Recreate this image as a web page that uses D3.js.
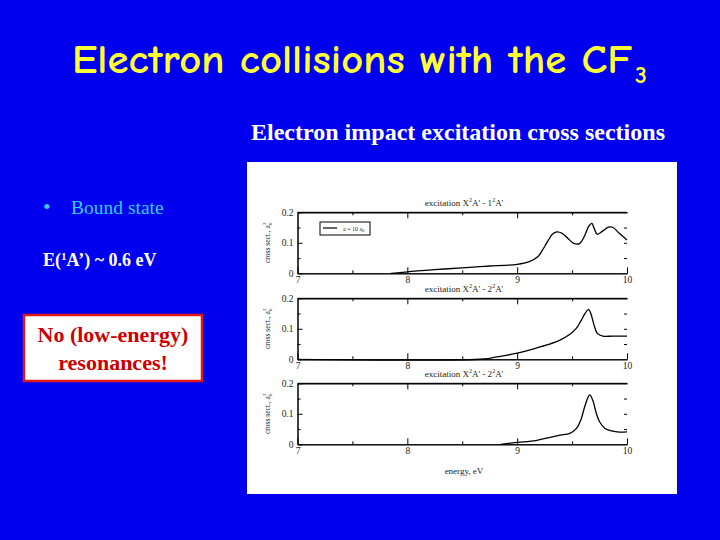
<!DOCTYPE html>
<html>
<head>
<meta charset="utf-8">
<script src="https://cdn.jsdelivr.net/npm/d3@7"></script>
<style>
  html, body { margin: 0; padding: 0; background: #0000ee; }
  svg { display: block; }
</style>
</head>
<body>
<svg id="chart" width="720" height="540"></svg>
<script>
// ---- data ----
const panelTitles = [
  ["excitation X", "2", "A' - 1", "2", "A'"],
  ["excitation X", "2", "A' - 2", "2", "A'"],
  ["excitation X", "2", "A' - 2", "2", "A'"]
];
const xTicks = [7, 8, 9, 10];
const xMinorTicks = [7.5, 8.5, 9.5];
const yTicks = [0, 0.1, 0.2];
const yMinorTicks = [0.05, 0.15];

const energy1 = [7.85, 7.95, 8.0, 8.25, 8.5, 8.66, 8.75, 9.0, 9.11, 9.19, 9.23, 9.28, 9.32, 9.36, 9.41, 9.46, 9.52, 9.57, 9.61, 9.65, 9.68, 9.70, 9.73, 9.78, 9.83, 9.87, 9.93, 10.0];
const cross1  = [0, 0.003, 0.005, 0.012, 0.018, 0.022, 0.024, 0.029, 0.038, 0.055, 0.076, 0.106, 0.128, 0.136, 0.131, 0.115, 0.097, 0.098, 0.120, 0.153, 0.164, 0.148, 0.128, 0.139, 0.151, 0.151, 0.131, 0.109];

const energy2 = [7.0, 8.7, 8.8, 8.9, 9.0, 9.11, 9.27, 9.39, 9.48, 9.54, 9.58, 9.62, 9.65, 9.67, 9.70, 9.73, 9.78, 9.87, 10.0];
const cross2  = [0, 0.001, 0.007, 0.013, 0.02, 0.03, 0.047, 0.063, 0.082, 0.102, 0.126, 0.151, 0.164, 0.151, 0.112, 0.085, 0.076, 0.076, 0.076];

const energy3 = [8.85, 9.0, 9.17, 9.30, 9.39, 9.48, 9.54, 9.58, 9.62, 9.66, 9.69, 9.72, 9.75, 9.80, 9.86, 9.93, 10.0];
const cross3  = [0, 0.006, 0.012, 0.023, 0.030, 0.036, 0.052, 0.080, 0.129, 0.162, 0.143, 0.102, 0.074, 0.052, 0.044, 0.040, 0.041];

const seriesE = [energy1, energy2, energy3];
const seriesV = [cross1, cross2, cross3];

// ---- drawing ----
const svg = d3.select("#chart");
const BLUE = "#0000ee";
svg.append("rect").attr("x", 0).attr("y", 0).attr("width", 720).attr("height", 540).attr("fill", BLUE);

const TITLE_FONT = "'Comic Sans MS', 'Comic Neue', Lato, 'Open Sans', sans-serif";
// Title
svg.append("text")
  .attr("x", 72).attr("y", 73)
  .attr("font-family", TITLE_FONT)
  .attr("font-weight", "bold")
  .attr("font-size", 41)
  .attr("fill", "#ffff33")
  .attr("textLength", 560).attr("lengthAdjust", "spacingAndGlyphs")
  .text("Electron collisions with the CF");
svg.append("text")
  .attr("x", 635).attr("y", 83)
  .attr("font-family", TITLE_FONT)
  .attr("font-weight", "bold")
  .attr("font-size", 24)
  .attr("fill", "#ffff33")
  .text("3");

// Subtitle
svg.append("text")
  .attr("x", 251).attr("y", 140)
  .attr("font-family", "'Liberation Serif', 'Times New Roman', serif")
  .attr("font-weight", "bold")
  .attr("font-size", 24)
  .attr("fill", "#ffffff")
  .attr("textLength", 414).attr("lengthAdjust", "spacingAndGlyphs")
  .text("Electron impact excitation cross sections");

// Left texts
svg.append("text")
  .attr("x", 43).attr("y", 214)
  .attr("font-family", "'Liberation Serif', 'Times New Roman', serif")
  .attr("font-size", 22).attr("fill", "#33ccff")
  .text("•");
svg.append("text")
  .attr("x", 71).attr("y", 214)
  .attr("font-family", "'Liberation Serif', 'Times New Roman', serif")
  .attr("font-size", 19.5).attr("fill", "#33ccff")
  .text("Bound state");

const eText = svg.append("text")
  .attr("x", 43).attr("y", 266)
  .attr("font-family", "'Liberation Serif', 'Times New Roman', serif")
  .attr("font-weight", "bold")
  .attr("font-size", 18).attr("fill", "#ffffff");
eText.append("tspan").text("E(");
eText.append("tspan").attr("font-size", 11).attr("dy", -6).text("1");
eText.append("tspan").attr("dy", 6).text("A’) ~ 0.6 eV");

svg.append("rect")
  .attr("x", 24).attr("y", 315).attr("width", 178).attr("height", 66)
  .attr("fill", "#ffffff").attr("stroke", "#e01818").attr("stroke-width", 2.5);
[["No (low-energy)", 342], ["resonances!", 370]].forEach(([t, y]) => {
  svg.append("text")
    .attr("x", 113).attr("y", y)
    .attr("text-anchor", "middle")
    .attr("font-family", "'Liberation Serif', 'Times New Roman', serif")
    .attr("font-weight", "bold")
    .attr("font-size", 22).attr("fill", "#cc0000")
    .text(t);
});

// Figure panel
svg.append("rect")
  .attr("x", 247).attr("y", 162).attr("width", 430).attr("height", 332)
  .attr("fill", "#ffffff");

const FIG_FONT = "'Liberation Serif', 'Times New Roman', serif";
const x = d3.scaleLinear().domain([7, 10]).range([297.5, 627]);
const panelTops = [212.3, 298.3, 383.3];
const panelH = 61;

panelTops.forEach((top, i) => {
  const y = d3.scaleLinear().domain([0, 0.2]).range([top + panelH, top]);
  const g = svg.append("g");

  // bottom axis with labels
  g.append("g").attr("transform", `translate(0,${top + panelH})`)
    .call(d3.axisBottom(x).tickValues(xTicks).tickSize(-6).tickSizeOuter(0).tickPadding(3).tickFormat(d3.format("d")));
  g.append("g").attr("transform", `translate(0,${top + panelH})`)
    .call(d3.axisBottom(x).tickValues(xMinorTicks).tickSize(-3).tickSizeOuter(0).tickFormat(""));
  // top axis
  g.append("g").attr("transform", `translate(0,${top})`)
    .call(d3.axisTop(x).tickValues(xTicks.slice(1, 3)).tickSize(-6).tickSizeOuter(0).tickFormat(""));
  g.append("g").attr("transform", `translate(0,${top})`)
    .call(d3.axisTop(x).tickValues(xMinorTicks).tickSize(-3).tickSizeOuter(0).tickFormat(""));
  // left axis
  g.append("g").attr("transform", `translate(${x(7)},0)`)
    .call(d3.axisLeft(y).tickValues(yTicks).tickSize(-5).tickSizeOuter(0).tickPadding(4)
      .tickFormat(d => d === 0 ? "0" : d3.format(".1f")(d)));
  g.append("g").attr("transform", `translate(${x(7)},0)`)
    .call(d3.axisLeft(y).tickValues(yMinorTicks).tickSize(-3).tickSizeOuter(0).tickFormat(""));
  // right ticks (no right line)
  const right = g.append("g").attr("transform", `translate(${x(10)},0)`)
    .call(d3.axisRight(y).tickValues([0.05, 0.1, 0.15]).tickSize(-3).tickSizeOuter(0).tickFormat(""));
  right.select(".domain").remove();

  g.selectAll(".domain").attr("stroke", "#000").attr("stroke-width", 1);
  g.selectAll(".tick line").attr("stroke", "#000").attr("stroke-width", 1);
  g.selectAll(".tick text").attr("font-family", FIG_FONT).attr("font-size", 9.5).attr("fill", "#222");

  // top frame line
  g.append("line").attr("x1", x(7)).attr("x2", x(10)).attr("y1", top).attr("y2", top)
    .attr("stroke", "#000").attr("stroke-width", 1);

  // curve
  const pts = seriesE[i].map((e, k) => [e, seriesV[i][k]]);
  g.append("path").datum(pts)
    .attr("fill", "none").attr("stroke", "#000").attr("stroke-width", 1.3)
    .attr("d", d3.line().x(d => x(d[0])).y(d => y(d[1])).curve(d3.curveCatmullRom.alpha(0.5)));

  // panel title
  const pt = g.append("text").attr("x", 464).attr("y", top - 6)
    .attr("text-anchor", "middle").attr("font-family", FIG_FONT).attr("font-size", 9).attr("fill", "#222");
  const parts = panelTitles[i];
  pt.append("tspan").text(parts[0]);
  pt.append("tspan").attr("font-size", 6).attr("dy", -4).text(parts[1]);
  pt.append("tspan").attr("dy", 4).text(parts[2]);
  pt.append("tspan").attr("font-size", 6).attr("dy", -4).text(parts[3]);
  pt.append("tspan").attr("dy", 4).text(parts[4]);

  // y axis title
  const yt = g.append("text")
    .attr("transform", `translate(270,${top + panelH / 2}) rotate(-90)`)
    .attr("text-anchor", "middle").attr("font-family", FIG_FONT).attr("font-size", 7.5).attr("fill", "#222");
  yt.append("tspan").text("cross sect., a");
  yt.append("tspan").attr("font-size", 5).attr("dy", 2).text("0");
  yt.append("tspan").attr("font-size", 5).attr("dy", -6).attr("dx", -2.5).text("2");
});

// legend in panel 1
const lg = svg.append("g");
lg.append("rect").attr("x", 320).attr("y", 222).attr("width", 50).attr("height", 13)
  .attr("fill", "#fff").attr("stroke", "#000").attr("stroke-width", 1);
lg.append("line").attr("x1", 323).attr("x2", 337).attr("y1", 228).attr("y2", 228)
  .attr("stroke", "#000").attr("stroke-width", 1.2);
const lt = lg.append("text").attr("x", 343).attr("y", 230.5)
  .attr("font-family", FIG_FONT).attr("font-size", 6).attr("fill", "#222");
lt.append("tspan").text("a = 10 a");
lt.append("tspan").attr("font-size", 4).attr("dy", 1.5).text("0");

// x axis title
svg.append("text").attr("x", 464).attr("y", 474)
  .attr("text-anchor", "middle").attr("font-family", FIG_FONT).attr("font-size", 9).attr("fill", "#222")
  .text("energy, eV");
</script>
</body>
</html>
